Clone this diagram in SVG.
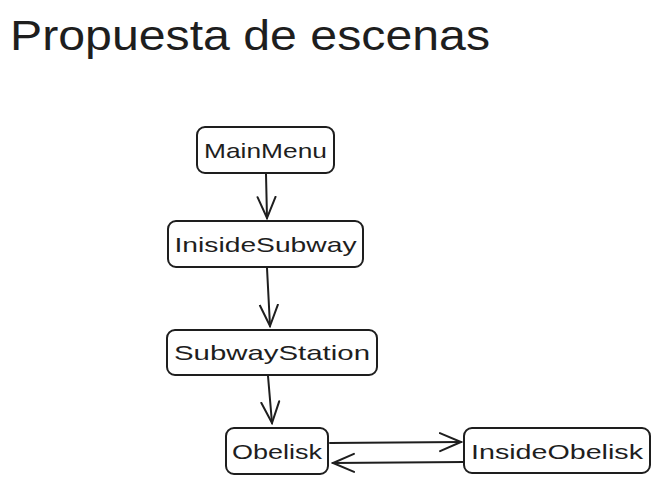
<svg xmlns="http://www.w3.org/2000/svg" width="659" height="483" viewBox="0 0 659 483">
<style>
.box{fill:#fff;stroke:#1e1e1e;stroke-width:2}
.lbl{font-family:"Liberation Sans",Arial,sans-serif;font-size:21px;fill:#1e1e1e;text-anchor:middle}
.title{font-family:"Liberation Sans",Arial,sans-serif;font-size:42px;fill:#1e1e1e}
.edge{fill:none;stroke:#1e1e1e;stroke-width:2;stroke-linecap:round;stroke-linejoin:round}
</style>
<defs>
<marker id="arr" viewBox="0 0 24 22" refX="22" refY="11" markerWidth="24" markerHeight="22" markerUnits="userSpaceOnUse" orient="auto">
<path d="M1,2 L22,11 L1,20" fill="none" stroke="#1e1e1e" stroke-width="2" stroke-linecap="round"/>
</marker>
</defs>
<rect width="659" height="483" fill="#fff"/>
<text class="title" x="10" y="50" textLength="480" lengthAdjust="spacingAndGlyphs">Propuesta de escenas</text>
<g id="connectors">
<path class="edge" d="M266,174 L267,218" marker-end="url(#arr)"/>
<path class="edge" d="M267,268 L270,326" marker-end="url(#arr)"/>
<path class="edge" d="M268,376 L272,423" marker-end="url(#arr)"/>
<path class="edge" d="M330,443 L461,442" marker-end="url(#arr)"/>
<path class="edge" d="M464,462 L333,463" marker-end="url(#arr)"/>
</g>
<g id="MainMenu">
<rect class="box" x="197" y="127" width="137" height="46" rx="8"/>
<text class="lbl" x="265.5" y="158" textLength="123" lengthAdjust="spacingAndGlyphs">MainMenu</text>
</g>
<g id="InisideSubway">
<rect class="box" x="168" y="221" width="195" height="46" rx="8"/>
<text class="lbl" x="265.5" y="252" textLength="182" lengthAdjust="spacingAndGlyphs">InisideSubway</text>
</g>
<g id="SubwayStation">
<rect class="box" x="167" y="330" width="210" height="45" rx="8"/>
<text class="lbl" x="272" y="360" textLength="196" lengthAdjust="spacingAndGlyphs">SubwayStation</text>
</g>
<g id="Obelisk">
<rect class="box" x="226" y="428" width="102" height="46" rx="8"/>
<text class="lbl" x="277" y="459" textLength="90" lengthAdjust="spacingAndGlyphs">Obelisk</text>
</g>
<g id="InsideObelisk">
<rect class="box" x="464" y="428" width="186" height="45" rx="8"/>
<text class="lbl" x="557" y="459" textLength="172" lengthAdjust="spacingAndGlyphs">InsideObelisk</text>
</g>
</svg>
